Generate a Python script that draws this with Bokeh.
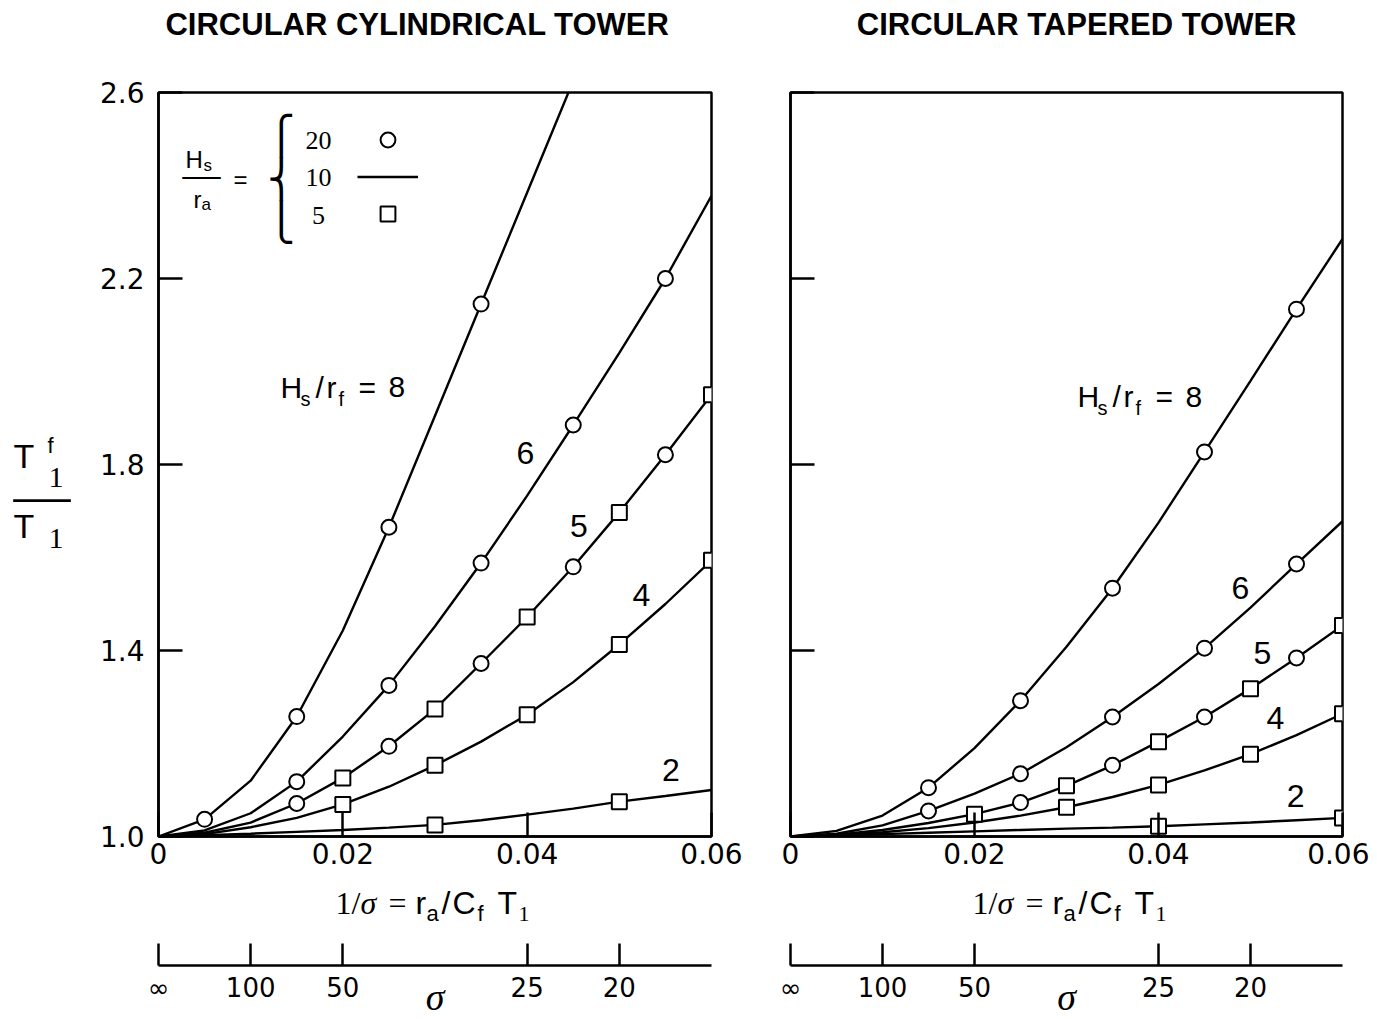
from bokeh.plotting import figure
from bokeh.models import Range1d, FixedTicker, Label, Legend, LegendItem
from bokeh.layouts import row, column
from bokeh.embed import file_html
from bokeh.resources import INLINE

# ---------------- data ----------------
x_grid = [0.0, 0.005, 0.01, 0.015, 0.02, 0.025, 0.03, 0.035, 0.04, 0.045, 0.05, 0.055, 0.06]

# Circular cylindrical tower: T1f/T1 versus 1/sigma, for Hs/rf = 8, 6, 5, 4, 2
cyl_8 = [1.000, 1.037, 1.120, 1.258, 1.443, 1.665, 1.905, 2.145, 2.385, 2.625]
cyl_6 = [1.000, 1.013, 1.050, 1.118, 1.215, 1.325, 1.452, 1.588, 1.733, 1.885, 2.040, 2.200, 2.378]
cyl_5 = [1.000, 1.008, 1.030, 1.071, 1.126, 1.194, 1.274, 1.372, 1.472, 1.580, 1.697, 1.821, 1.950]
cyl_4 = [1.000, 1.005, 1.020, 1.040, 1.069, 1.107, 1.153, 1.204, 1.262, 1.332, 1.413, 1.500, 1.594]
cyl_2 = [1.000, 1.003, 1.006, 1.010, 1.014, 1.019, 1.025, 1.035, 1.047, 1.060, 1.075, 1.087, 1.100]

# Circular tapered tower
tap_8 = [1.000, 1.012, 1.045, 1.105, 1.190, 1.292, 1.408, 1.534, 1.675, 1.827, 1.980, 2.134, 2.285]
tap_6 = [1.000, 1.006, 1.024, 1.055, 1.092, 1.135, 1.192, 1.257, 1.328, 1.405, 1.492, 1.586, 1.678]
tap_5 = [1.000, 1.004, 1.014, 1.029, 1.048, 1.073, 1.109, 1.153, 1.204, 1.257, 1.318, 1.384, 1.454]
tap_4 = [1.000, 1.003, 1.009, 1.018, 1.030, 1.045, 1.063, 1.085, 1.111, 1.142, 1.177, 1.218, 1.264]
tap_2 = [1.000, 1.002, 1.005, 1.008, 1.011, 1.014, 1.017, 1.019, 1.022, 1.026, 1.030, 1.035, 1.040]

# where the symbols sit (Hs/ra = 20 -> circle, 5 -> square)
cyl_8_circles = [0.005, 0.015, 0.025, 0.035]
cyl_6_circles = [0.015, 0.025, 0.035, 0.045, 0.055]
cyl_5_circles = [0.015, 0.025, 0.035, 0.045, 0.055]
cyl_5_squares = [0.02, 0.03, 0.04, 0.05, 0.06]
cyl_4_squares = [0.02, 0.03, 0.04, 0.05, 0.06]
cyl_2_squares = [0.03, 0.05]

tap_8_circles = [0.015, 0.025, 0.035, 0.045, 0.055]
tap_6_circles = [0.015, 0.025, 0.035, 0.045, 0.055]
tap_5_circles = [0.025, 0.035, 0.045, 0.055]
tap_5_squares = [0.02, 0.03, 0.04, 0.05, 0.06]
tap_4_squares = [0.03, 0.04, 0.05, 0.06]
tap_2_squares = [0.04, 0.06]

x_ticks = [0.0, 0.02, 0.04, 0.06]
x_tick_labels = ["0", "0.02", "0.04", "0.06"]
y_ticks = [1.0, 1.4, 1.8, 2.2, 2.6]
y_tick_labels = ["1.0", "1.4", "1.8", "2.2", "2.6"]
sigma_values = [float("inf"), 100, 50, 25, 20]
sigma_labels = ["\u221e", "100", "50", "25", "20"]
legend_hs_ra = ["20", "10", "5"]

SANS = "Liberation Sans"
SERIF = "Liberation Serif"
NUM = "DejaVu Sans"
FRAME_H = 744


def ys_at(curve, xs):
    return [curve[x_grid.index(x)] for x in xs]


def text(p, x, y, t, size, font=SANS, style="normal", align="left",
         baseline="alphabetic", dx=0, dy=0):
    # "alphabetic": (x, y) + offsets give the baseline; drawn as "middle"
    if baseline == "alphabetic":
        baseline = "middle"
        dy = dy + 0.35 * size
    p.add_layout(Label(x=x, y=y, x_offset=dx, y_offset=dy, text=t,
                       text_font=font, text_font_size=f"{size}px",
                       text_font_style=style, text_align=align,
                       text_baseline=baseline, text_color="black"))


def pieces(p, x, y, items):
    for it in items:
        t, dx, dy, size = it[:4]
        font = it[4] if len(it) > 4 else SANS
        style = it[5] if len(it) > 5 else "normal"
        text(p, x, y, t, size, font=font, style=style, dx=dx, dy=dy)


def blank(p):
    p.grid.visible = False
    p.outline_line_color = None
    p.background_fill_color = "white"
    p.border_fill_color = "white"


def text_panel(x_range, y_range, fw, fh, bl, br, bt, bb):
    p = figure(frame_width=fw, frame_height=fh, x_range=x_range, y_range=y_range,
               toolbar_location=None, output_backend="svg",
               x_axis_location=None, y_axis_location=None,
               min_border_left=bl, min_border_right=br,
               min_border_top=bt, min_border_bottom=bb)
    blank(p)
    return p


def main_panel(frame_w, b_left, b_right, curves, circles, squares, show_y):
    p = figure(frame_width=frame_w, frame_height=FRAME_H,
               x_range=Range1d(0, 0.06), y_range=Range1d(1.0, 2.6),
               toolbar_location=None, output_backend="svg",
               min_border_left=b_left, min_border_right=b_right,
               min_border_top=32, min_border_bottom=40)
    p.xaxis.ticker = FixedTicker(ticks=x_ticks)
    p.xaxis.major_label_overrides = dict(zip(x_ticks, x_tick_labels))
    p.yaxis.ticker = FixedTicker(ticks=y_ticks)
    p.yaxis.major_label_overrides = dict(
        zip(y_ticks, y_tick_labels if show_y else [""] * len(y_ticks)))
    for ax in p.axis:
        ax.axis_line_width = 2.5
        ax.axis_line_color = "black"
        ax.major_tick_line_width = 2.5
        ax.major_tick_line_color = "black"
        ax.major_tick_in = 24
        ax.major_tick_out = 0
        ax.minor_tick_line_color = None
        ax.major_label_text_font = NUM
        ax.major_label_text_font_size = "28px"
        ax.major_label_text_color = "black"
    p.xaxis.major_label_standoff = 6
    p.yaxis.major_label_standoff = 14
    blank(p)
    p.outline_line_color = "black"
    p.outline_line_width = 2.5
    p.outline_line_alpha = 1.0

    xs = [x_grid[:len(c)] for c in curves]
    lines = p.multi_line(xs=xs, ys=curves, line_color="black", line_width=2.4)
    cx, cy = [], []
    for curve, pos in circles:
        cx += pos
        cy += ys_at(curve, pos)
    sx, sy = [], []
    for curve, pos in squares:
        sx += pos
        sy += ys_at(curve, pos)
    circ = p.scatter(cx, cy, marker="circle", size=15, fill_color="white",
                     line_color="black", line_width=2)
    sq = p.scatter(sx, sy, marker="square", size=15, fill_color="white",
                   line_color="black", line_width=2)
    return p, lines, circ, sq


def sigma_panel(main, frame_w, b_left, b_right):
    # frame spans from below the 1/sigma tick labels down to the sigma scale line
    s = figure(frame_width=frame_w, frame_height=89, x_range=main.x_range,
               y_range=Range1d(0, 1), toolbar_location=None,
               output_backend="svg", y_axis_location=None,
               min_border_left=b_left, min_border_right=b_right,
               min_border_top=0, min_border_bottom=52)
    ticks = [0.0 if v == float("inf") else 1.0 / v for v in sigma_values]
    ax = s.xaxis[0]
    ax.ticker = FixedTicker(ticks=ticks)
    ax.major_label_overrides = dict(zip(ticks, sigma_labels))
    ax.axis_line_width = 2.5
    ax.axis_line_color = "black"
    ax.major_tick_line_width = 2.5
    ax.major_tick_line_color = "black"
    ax.major_tick_in = 22
    ax.major_tick_out = 0
    ax.minor_tick_line_color = None
    ax.major_label_text_font = NUM
    ax.major_label_text_font_size = "26px"
    ax.major_label_text_color = "black"
    ax.major_label_standoff = 7
    ax.axis_label = "\u03c3"
    ax.axis_label_text_font = SERIF
    ax.axis_label_text_font_style = "italic"
    ax.axis_label_text_font_size = "38px"
    ax.axis_label_text_color = "black"
    ax.axis_label_standoff = -30
    blank(s)
    return s


def axis_title(s, x):
    # 1/sigma = ra/Cf T1
    pieces(s, x, 0.573, [("1/", 0, 0, 32, SERIF), ("\u03c3", 25, 0, 32, SERIF, "italic"),
                         ("=", 53, 0, 32, SERIF), ("r", 80, 0, 32), ("a", 91, -7, 22),
                         ("/", 106, 0, 32), ("C", 117, 0, 32), ("f", 142, -7, 22),
                         ("T", 162, 0, 32), ("1", 183, -7, 22, SERIF)])


def hs_rf_pieces(p, x, y):
    pieces(p, x, y, [("H", 0, 0, 30), ("s", 20, -8, 20), ("/", 35, 0, 30),
                     ("r", 46, 0, 30), ("f", 58, -8, 20), ("=", 78, 0, 30),
                     ("8", 108, 0, 30)])


# ---------------- left: circular cylindrical tower ----------------
L, L_lines, L_circ, L_sq = main_panel(
    553, 70, 39,
    [cyl_8, cyl_6, cyl_5, cyl_4, cyl_2],
    [(cyl_8, cyl_8_circles), (cyl_6, cyl_6_circles), (cyl_5, cyl_5_circles)],
    [(cyl_5, cyl_5_squares), (cyl_4, cyl_4_squares), (cyl_2, cyl_2_squares)],
    True)

hs_rf_pieces(L, 0.01324, 1.944)
for t, x, y in [("6", 0.0398, 1.824), ("5", 0.0456, 1.667),
                ("4", 0.0524, 1.520), ("2", 0.0556, 1.142)]:
    text(L, x, y, t, 32, align="center", baseline="middle")

# legend:  Hs/ra = { 20 o / 10 - / 5 []
pieces(L, 0.00293, 2.4387, [("H", 0, 0, 24), ("s", 18, -4, 17), ("\u2014", -3, -20, 38, SERIF),
                             ("r", 8, -40, 24), ("a", 16, -43, 17), ("=", 48, -20, 24),
                             ("\u23a7", 82, 19, 37, "DejaVu Sans"),
                             ("\u23a8", 82, -24.5, 37, "DejaVu Sans"),
                             ("\u23a9", 82, -68, 37, "DejaVu Sans")])
for t, y in zip(legend_hs_ra, [2.4968, 2.4172, 2.3355]):
    text(L, 0.01736, y, t, 26, font=SERIF, align="center", baseline="middle")
legend = Legend(items=[LegendItem(label=" ", renderers=[L_circ]),
                       LegendItem(label=" ", renderers=[L_lines]),
                       LegendItem(label=" ", renderers=[L_sq])],
                location=(199, 604), orientation="vertical",
                glyph_width=61, glyph_height=37, spacing=0, padding=0, margin=0,
                border_line_color=None, background_fill_alpha=0,
                label_standoff=0, label_text_font_size="10px")
L.add_layout(legend)

L_title = text_panel(L.x_range, Range1d(0, 1), 553, 60, 70, 39, 0, 0)
text(L_title, 0.0281, 0.6, "CIRCULAR CYLINDRICAL TOWER", 31, style="bold",
     align="center", baseline="middle")

L_sig = sigma_panel(L, 553, 70, 39)
axis_title(L_sig, 0.0192)

# y-axis title  T1f / T1  (shares the y scale of the left panel)
Y_lab = text_panel(Range1d(0, 1), L.y_range, 88, FRAME_H, 0, 0, 92, 181)
pieces(Y_lab, 0.148, 1.7935, [("T", 0, 0, 34), ("f", 34, 14, 22), ("1", 35, -20, 30, SERIF),
                               ("\u2014", 0, -47, 57, SERIF), ("T", 0, -70, 34),
                               ("1", 35, -81, 30, SERIF)])

# ---------------- right: circular tapered tower ----------------
R, R_lines, R_circ, R_sq = main_panel(
    552, 40, 27,
    [tap_8, tap_6, tap_5, tap_4, tap_2],
    [(tap_8, tap_8_circles), (tap_6, tap_6_circles), (tap_5, tap_5_circles)],
    [(tap_5, tap_5_squares), (tap_4, tap_4_squares), (tap_2, tap_2_squares)],
    False)

hs_rf_pieces(R, 0.0312, 1.923)
for t, x, y in [("6", 0.0489, 1.535), ("5", 0.0513, 1.394),
                ("4", 0.0527, 1.254), ("2", 0.0549, 1.088)]:
    text(R, x, y, t, 32, align="center", baseline="middle")

R_title = text_panel(R.x_range, Range1d(0, 1), 552, 60, 40, 27, 0, 0)
text(R_title, 0.0311, 0.6, "CIRCULAR TAPERED TOWER", 31, style="bold",
     align="center", baseline="middle")

R_sig = sigma_panel(R, 552, 40, 27)
axis_title(R_sig, 0.01978)

layout = row(Y_lab, column(L_title, L, L_sig), column(R_title, R, R_sig))
open("out.html", "w").write(file_html(layout, INLINE))
